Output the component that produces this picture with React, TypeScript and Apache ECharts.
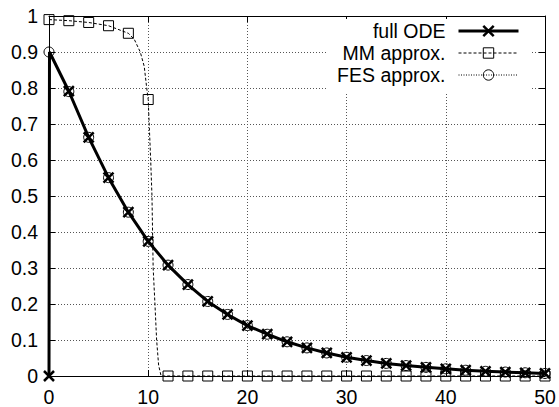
import React, { useEffect, useRef } from 'react';
import * as echarts from 'echarts';

// sample times carrying a marker
const markerTimes = [0, 2, 4, 6, 8, 10, 12, 14, 16, 18, 20, 22, 24, 26, 28, 30, 32, 34, 36, 38, 40, 42, 44, 46, 48, 50];
// full ODE at the marker times
const fullOdeValues = [0, 0.791, 0.663, 0.551, 0.455, 0.374, 0.308, 0.254, 0.207, 0.171, 0.14, 0.116, 0.095, 0.078, 0.064, 0.052, 0.043, 0.035, 0.029, 0.024, 0.02, 0.016, 0.013, 0.011, 0.009, 0.007];
// fast initial transient of the full ODE (unmarked samples)
const fullOdeExtraTimes = [0.05];
const fullOdeExtraValues = [0.9];
// MM approximation at the marker times
const mmValues = [0.99, 0.987, 0.982, 0.973, 0.952, 0.768, 0, 0, 0, 0, 0, 0, 0, 0, 0, 0, 0, 0, 0, 0, 0, 0, 0, 0, 0, 0];
// MM approximation, unmarked samples of its steep drop
const mmExtraTimes = [8.6, 9.2, 9.6, 9.85, 10.1, 10.25, 10.38, 10.44, 10.5, 10.68, 10.85, 11.05, 11.3];
const mmExtraValues = [0.935, 0.9, 0.86, 0.8, 0.7, 0.6, 0.5, 0.4, 0.3, 0.2, 0.1, 0.03, 0];
// FES approximation at the marker times
const fesValues = [0.9, 0.79, 0.663, 0.551, 0.455, 0.374, 0.308, 0.254, 0.207, 0.171, 0.14, 0.116, 0.095, 0.078, 0.064, 0.052, 0.043, 0.035, 0.029, 0.024, 0.02, 0.016, 0.013, 0.011, 0.009, 0.007];

const seriesNames = ['full ODE', 'MM approx.', 'FES approx.'];

const FONT = 'Liberation Sans, Arial, sans-serif';
const CROSS = 'path://M0,0L10,10M10,0L0,10';

function buildData(mT: number[], mV: number[], eT: number[], eV: number[]) {
  const pts: { t: number; v: number; marked: boolean }[] = [];
  mT.forEach((t, i) => pts.push({ t, v: mV[i], marked: true }));
  eT.forEach((t, i) => pts.push({ t, v: eV[i], marked: false }));
  pts.sort((a, b) => a.t - b.t);
  return pts.map((p) => (p.marked ? { value: [p.t, p.v] } : { value: [p.t, p.v], symbol: 'none' }));
}

export default function App() {
  const ref = useRef<HTMLDivElement>(null);
  useEffect(() => {
    if (!ref.current) return;
    const chart = echarts.init(ref.current, undefined, { renderer: 'svg' });
    const axisLine = { show: true, onZero: false, lineStyle: { color: '#000', width: 1 } };
    const axisTick = { show: true, inside: true, length: 6, lineStyle: { color: '#000', width: 1 } };
    const split = { show: true, lineStyle: { color: '#555', type: [1, 2], width: 1 } };
    const label = { color: '#000', fontSize: 19.5, fontFamily: FONT, margin: 11 };
    const empty = 'rgba(0,0,0,0)';
    chart.setOption({
      animation: false,
      backgroundColor: '#fff',
      grid: { left: 49, right: 14, top: 16, bottom: 28, containLabel: false },
      xAxis: [
        { type: 'value', min: 0, max: 50, interval: 10, position: 'bottom', axisLine, axisTick, axisLabel: label, splitLine: split },
        { type: 'value', min: 0, max: 50, interval: 10, position: 'top', axisLine, axisTick, axisLabel: { show: false }, splitLine: { show: false } },
      ],
      yAxis: [
        {
          type: 'value', min: 0, max: 1, interval: 0.1, position: 'left', axisLine, axisTick,
          axisLabel: { ...label, formatter: (v: number) => String(+v.toFixed(1)) }, splitLine: split,
        },
        { type: 'value', min: 0, max: 1, interval: 0.1, position: 'right', axisLine, axisTick, axisLabel: { show: false }, splitLine: { show: false } },
      ],
      legend: {
        orient: 'vertical',
        right: 29,
        top: 19,
        align: 'right',
        itemWidth: 60,
        itemHeight: 13,
        itemGap: 0,
        padding: [1, 10, 6, 10],
        backgroundColor: '#fff',
        selectedMode: false,
        textStyle: { fontFamily: FONT, fontSize: 19.5, color: '#000', lineHeight: 10, padding: [0, 8, 12, 0] },
        data: [
          { name: seriesNames[0], itemStyle: { color: empty, borderColor: '#000', borderWidth: 2.5 }, lineStyle: { color: '#000', width: 3, type: 'solid' } },
          { name: seriesNames[1], itemStyle: { color: empty, borderColor: '#000', borderWidth: 1 }, lineStyle: { color: '#000', width: 1, type: [3, 2] } },
          { name: seriesNames[2], itemStyle: { color: empty, borderColor: '#000', borderWidth: 1 }, lineStyle: { color: '#000', width: 1, type: [1, 1.5] } },
        ],
      },
      series: [
        {
          name: seriesNames[0], type: 'line', clip: false,
          symbol: CROSS, symbolSize: 10,
          itemStyle: { color: empty, borderColor: '#000', borderWidth: 2.5 },
          lineStyle: { color: '#000', width: 3 },
          data: buildData(markerTimes, fullOdeValues, fullOdeExtraTimes, fullOdeExtraValues),
        },
        {
          name: seriesNames[1], type: 'line', clip: false,
          symbol: 'rect', symbolSize: 10,
          itemStyle: { color: empty, borderColor: '#000', borderWidth: 1 },
          lineStyle: { color: '#000', width: 1, type: [3, 2] },
          data: buildData(markerTimes, mmValues, mmExtraTimes, mmExtraValues),
        },
        {
          name: seriesNames[2], type: 'line', clip: false,
          symbol: 'circle', symbolSize: 10,
          itemStyle: { color: empty, borderColor: '#000', borderWidth: 1 },
          lineStyle: { color: '#000', width: 1, type: [1, 1.5] },
          data: buildData(markerTimes, fesValues, [], []),
        },
      ],
    });
    return () => chart.dispose();
  }, []);
  return <div ref={ref} style={{ width: 559, height: 407, position: 'absolute', left: 0, top: 0 }} />;
}
